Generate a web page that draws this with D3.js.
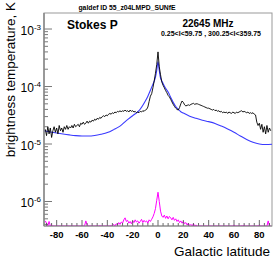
<!DOCTYPE html>
<html>
<head>
<meta charset="utf-8">
<script src="https://cdn.jsdelivr.net/npm/d3@7"></script>
<style>
html,body{margin:0;padding:0;background:#fff;}
svg{display:block;font-family:"Liberation Sans",Arial,Helvetica,sans-serif;}
</style>
</head>
<body>
<svg id="chart" width="278" height="267"></svg>
<script>
// ---- data ----
const titleText = "galdef ID 55_z04LMPD_SUNfE";
const panelLabel = "Stokes P";
const freqLabel = "22645 MHz";
const regionLabel = "0.25<l<59.75 , 300.25<l<359.75";
const xTitle = "Galactic latitude";
const yTitle = "brightness temperature, K";
const xTickValues = [-80, -60, -40, -20, 0, 20, 40, 60, 80];
const yDecades = [-6, -5, -4, -3];

// latitude grid for the measured (black) and difference (magenta) series
const latSamples = d3.range(-89, 90, 1);
// measured polarized intensity, units of 1e-5 K
const dataP_e5 = [
 1.8,1.4,2.0,1.5,1.9,1.3,1.7,2.0,1.6,1.9,
 1.5,2.1,1.7,1.9,1.6,2.0,1.8,2.1,1.8,2.0,
 1.9,2.1,1.9,2.2,2.0,2.1,2.2,2.0,2.3,2.2,
 2.4,2.2,2.3,2.5,2.3,2.5,2.4,2.6,2.5,2.7,
 2.6,2.8,2.7,2.9,2.8,3.0,3.1,3.0,3.2,3.1,
 3.3,3.4,3.3,3.5,3.4,3.6,3.5,3.7,3.6,3.8,
 3.6,3.8,3.7,3.9,3.7,3.8,3.6,3.9,3.7,3.8,
 3.6,3.7,3.5,3.6,3.5,3.7,3.6,3.8,3.7,3.9,
 4.0,4.4,5.5,6.8,7.5,9.5,12.5,17,24,40,22,16,
 12,10.5,9.5,8.5,7.8,7.0,6.6,6.0,5.4,4.9,4.5,4.2,4.0,3.9,4.3,5.0,5.6,5.3,
 4.8,4.6,4.7,4.8,4.7,4.9,5.0,5.1,4.9,5.0,
 5.0,4.9,4.8,4.7,4.6,4.5,4.4,4.3,4.2,4.2,
 4.1,4.0,3.9,4.0,3.8,3.9,3.7,3.8,3.6,3.7,
 3.5,3.6,3.5,3.6,3.4,3.6,3.5,3.4,3.6,3.5,
 3.4,3.6,3.5,3.6,3.7,3.8,3.6,3.7,3.6,3.5,
 3.6,3.4,3.5,3.4,3.5,3.3,3.2,2.4,2.1,2.3,
 1.8,2.2,1.6,2.0,1.5,2.1,1.6,1.9,1.7
];
// model (blue), smooth, units of 1e-5 K
const modelLat = [-90,-85,-80,-75,-70,-65,-60,-55,-50,-45,-40,-35,-30,-25,-20,-15,-10,-8,-6,-4,-2,-1,0,1,2,3,4,6,8,10,12,14,16,18,20,25,30,35,40,45,50,55,60,65,70,75,80,85,90];
const modelP_e5 = [1.70,1.62,1.55,1.49,1.44,1.40,1.38,1.38,1.41,1.48,1.58,1.78,2.05,2.55,3.1,3.8,5.6,6.8,8.6,11,14.5,19,27,19,14,12.5,11.3,9.3,8.0,6.5,5.3,4.5,4.0,3.65,3.45,3.05,2.8,2.6,2.45,2.28,2.05,1.82,1.6,1.38,1.2,1.07,1.0,0.98,0.99];
// difference / residual (magenta), units of 1e-7 K
const residP_e7 = [
 4.6,4.2,3.5,4.5,3.2,3.9,2.8,3.0,2.5,3.2,
 2.6,3.0,2.4,2.8,2.2,3.1,2.5,2.9,2.3,2.7,
 2.5,3.0,2.2,2.6,2.4,3.2,2.6,2.8,2.3,2.9,
 3.3,3.7,4.6,4.0,3.3,2.7,3.0,2.6,3.1,2.8,
 3.2,2.6,3.0,3.8,2.9,3.4,2.8,3.3,3.0,3.5,
 2.9,3.4,3.8,3.5,4.0,3.7,4.1,3.9,4.3,4.0,
 4.4,4.2,4.8,5.2,4.5,4.7,4.2,4.5,4.1,4.6,
 4.3,4.8,4.4,4.6,4.2,4.5,4.9,4.3,4.7,4.4,
 4.6,4.2,4.8,4.5,4.9,5.4,6.2,7.5,10.5,14.5,10,6.8,
 5.6,5.3,5.8,5.1,5.6,5.0,5.5,5.2,4.8,5.3,4.7,5.0,4.5,4.8,4.3,4.6,4.2,4.5,
 4.1,4.3,3.9,4.2,3.8,4.0,3.6,4.1,3.5,3.9,
 3.4,3.8,3.3,3.6,3.2,3.7,3.1,3.5,3.0,3.4,
 2.9,3.3,2.8,3.2,2.7,3.1,2.8,3.0,2.6,2.9,
 2.5,3.0,2.7,2.9,2.6,3.0,2.6,2.8,3.2,3.9,
 3.3,2.8,3.2,2.7,3.1,3.8,3.0,3.9,3.2,2.8,
 3.3,2.7,3.1,2.6,3.2,2.7,3.0,3.4,2.8,3.9,
 2.9,3.2,2.7,3.0,2.6,3.1,4.6,3.2,2.9
];

// ---- layout ----
const W = 278, H = 267;
const frame = {left: 44, right: 272, top: 13, bottom: 226};
const xDomain = [-90, 90];
const yDomain = [3.75e-7, 1.9e-3];

const svg = d3.select("#chart");
const x = d3.scaleLinear().domain(xDomain).range([frame.left, frame.right]);
const y = d3.scaleLog().domain(yDomain).range([frame.bottom, frame.top]);
const clampY = v => y(Math.max(v, yDomain[0]));

svg.append("defs").append("clipPath").attr("id", "clip")
  .append("rect").attr("x", frame.left).attr("y", frame.top)
  .attr("width", frame.right - frame.left).attr("height", frame.bottom - frame.top);

// frame
svg.append("rect").attr("x", frame.left).attr("y", frame.top)
  .attr("width", frame.right - frame.left).attr("height", frame.bottom - frame.top)
  .attr("fill", "none").attr("stroke", "#999").attr("stroke-width", 1);

// series
const g = svg.append("g").attr("clip-path", "url(#clip)");
const blackPts = latSamples.map((l, i) => [l, dataP_e5[i] * 1e-5]);
const bluePts = modelLat.map((l, i) => [l, modelP_e5[i] * 1e-5]);
const magPts = latSamples.map((l, i) => [l, residP_e7[i] * 1e-7]);

const line = d3.line().x(d => x(d[0])).y(d => clampY(d[1]));
g.append("path").attr("d", line.curve(d3.curveLinear)(magPts))
  .attr("fill", "none").attr("stroke", "#ff00ff").attr("stroke-width", 1);
g.append("path").attr("d", d3.line().x(d => x(d[0])).y(d => clampY(d[1])).curve(d3.curveMonotoneX)(bluePts))
  .attr("fill", "none").attr("stroke", "#3a3aff").attr("stroke-width", 1.1);
g.append("path").attr("d", d3.line().x(d => x(d[0])).y(d => clampY(d[1]))(blackPts))
  .attr("fill", "none").attr("stroke", "#000").attr("stroke-width", 0.9);

// x axis ticks (inside, pointing up)
const xAxisG = svg.append("g");
const xMinor = d3.range(-88, 90, 4).filter(v => xTickValues.indexOf(v) < 0);
xAxisG.selectAll("line.minor").data(xMinor).join("line")
  .attr("x1", d => x(d)).attr("x2", d => x(d))
  .attr("y1", frame.bottom).attr("y2", frame.bottom - 3)
  .attr("stroke", "#444").attr("stroke-width", 0.8);
xAxisG.selectAll("line.major").data(xTickValues).join("line")
  .attr("x1", d => x(d)).attr("x2", d => x(d))
  .attr("y1", frame.bottom).attr("y2", frame.bottom - 6)
  .attr("stroke", "#444").attr("stroke-width", 0.8);
xAxisG.selectAll("text").data(xTickValues).join("text")
  .attr("x", d => x(d)).attr("y", 238)
  .attr("text-anchor", "middle").attr("font-size", 9.5).attr("font-weight", "bold")
  .text(d => d);
svg.append("line").attr("x1", frame.left).attr("x2", frame.right)
  .attr("y1", frame.bottom).attr("y2", frame.bottom)
  .attr("stroke", "#888").attr("stroke-width", 1);

// y axis
const yAxisG = svg.append("g");
const yMinor = [];
yDecades.concat([-7, -2]).forEach(e => {
  for (let m = 2; m <= 9; m++) {
    const v = m * Math.pow(10, e);
    if (v > yDomain[0] && v < yDomain[1]) yMinor.push(v);
  }
});
yAxisG.selectAll("line.minor").data(yMinor).join("line")
  .attr("x1", frame.left).attr("x2", frame.left + 4)
  .attr("y1", d => y(d)).attr("y2", d => y(d))
  .attr("stroke", "#555").attr("stroke-width", 0.8);
yAxisG.selectAll("line.major").data(yDecades).join("line")
  .attr("x1", frame.left).attr("x2", frame.left + 8)
  .attr("y1", d => y(Math.pow(10, d))).attr("y2", d => y(Math.pow(10, d)))
  .attr("stroke", "#555").attr("stroke-width", 0.8);
const yl = yAxisG.selectAll("text").data(yDecades).join("text")
  .attr("x", 41).attr("y", d => y(Math.pow(10, d)) + 5.5)
  .attr("text-anchor", "end").attr("font-size", 12);
yl.append("tspan").text("10");
yl.append("tspan").attr("dy", -5).attr("font-size", 8).text(d => String(d).replace("-", "-"));
svg.append("line").attr("x1", frame.left).attr("x2", frame.left)
  .attr("y1", frame.top).attr("y2", frame.bottom)
  .attr("stroke", "#888").attr("stroke-width", 1.5);

// titles
svg.append("text").attr("x", 127).attr("y", 10).attr("text-anchor", "middle")
  .attr("font-size", 6.8).attr("font-weight", "bold").text(titleText);
svg.append("text").attr("x", 67).attr("y", 28.5)
  .attr("font-size", 12).attr("font-weight", "bold").text(panelLabel);
svg.append("text").attr("x", 208).attr("y", 26.5).attr("text-anchor", "middle")
  .attr("font-size", 10).attr("font-weight", "bold").text(freqLabel);
svg.append("text").attr("x", 211).attr("y", 35.5).attr("text-anchor", "middle")
  .attr("font-size", 7).attr("font-weight", "bold").text(regionLabel);
svg.append("text").attr("x", 270).attr("y", 256).attr("text-anchor", "end")
  .attr("font-size", 13.5).text(xTitle);
svg.append("text").attr("transform", "translate(15,2) rotate(-90)")
  .attr("text-anchor", "end").attr("font-size", 13.5).text(yTitle);
</script>
</body>
</html>
